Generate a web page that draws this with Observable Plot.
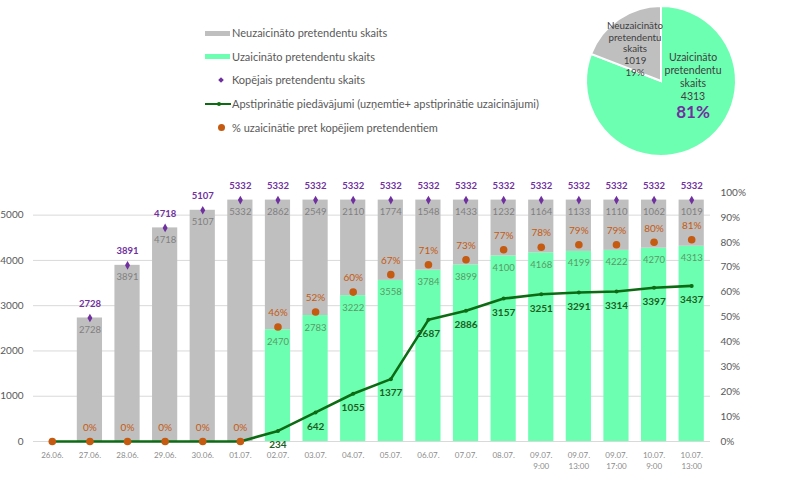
<!DOCTYPE html>
<html><head><meta charset="utf-8">
<script src="https://cdn.jsdelivr.net/npm/d3@7"></script>
<script src="https://cdn.jsdelivr.net/npm/@observablehq/plot@0.6"></script>
<style>
body{margin:0;background:#fff;font-family:Lato,"Open Sans",sans-serif;}
#wrap{position:relative;width:800px;height:490px;overflow:hidden;}
#chart{position:absolute;left:0;top:0;}
#pie{position:absolute;left:580px;top:0;}
#legend{position:absolute;left:204px;top:21px;font-size:11px;color:#595959;}
.row{height:23.6px;display:flex;align-items:center;white-space:nowrap;}
.sw{width:27px;height:12px;position:relative;margin-right:1px;}
</style></head><body>
<div id="wrap"><div id="chart"></div><div id="pie"></div><div id="legend"></div></div>
<script>
const categories = ["26.06.","27.06.","28.06.","29.06.","30.06.","01.07.","02.07.","03.07.","04.07.","05.07.","06.07.","07.07.","08.07.","09.07.\n9:00","09.07.\n13:00","09.07.\n17:00","10.07.\n9:00","10.07.\n13:00"];
const neuzaicinato = [0,2728,3891,4718,5107,5332,2862,2549,2110,1774,1548,1433,1232,1164,1133,1110,1062,1019];
const uzaicinato = [0,0,0,0,0,0,2470,2783,3222,3558,3784,3899,4100,4168,4199,4222,4270,4313];
const kopejais = [null,2728,3891,4718,5107,5332,5332,5332,5332,5332,5332,5332,5332,5332,5332,5332,5332,5332];
const apstiprinatie = [0,0,0,0,0,0,234,642,1055,1377,2687,2886,3157,3251,3291,3314,3397,3437];
const procenti = [0,0,0,0,0,0,46,52,60,67,71,73,77,78,79,79,80,81];
const leftTicks = [0,1000,2000,3000,4000,5000];
const rightTicks = [0,10,20,30,40,50,60,70,80,90,100];
const pieLabels = ["Uzaicināto\npretendentu\nskaits","Neuzaicināto\npretendentu\nskaits"];
const pieValues = [4313,1019];
const legendItems = ["Neuzaicināto pretendentu skaits","Uzaicināto pretendentu skaits","Kopējais pretendentu skaits","Apstiprinātie piedāvājumi (uzņemtie+ apstiprinātie uzaicinājumi)","% uzaicinātie pret kopējiem pretendentiem"];

const C = {grey:"#bfbfbf", green:"#6dffb1", purple:"#7030a0", orange:"#c55a11", line:"#0d6b14", lineText:"#1e5e22", greenText:"#5a9a66", greyText:"#7f7f7f", axis:"#595959"};
const K = 55; // 100% on right axis corresponds to 5500 on left axis

const data = categories.map((c,i)=>({c, neu:neuzaicinato[i], uz:uzaicinato[i], total:kopejais[i], appr:apstiprinatie[i], pct:procenti[i]}));

const chart = Plot.plot({
  width:800, height:490, marginTop:192, marginBottom:49, marginLeft:33, marginRight:90,
  style:{fontFamily:"Lato, 'Open Sans', sans-serif", background:"transparent"},
  x:{domain:categories, paddingInner:0.33, paddingOuter:0.165, round:false, axis:null},
  y:{domain:[0,5500], axis:null},
  marks:[
    Plot.gridY(leftTicks.slice(1), {stroke:"#d9d9d9", strokeOpacity:1}),
    Plot.axisY(leftTicks, {anchor:"left", tickSize:0, tickPadding:10, fontSize:10, fill:C.axis, tickFormat:d=>String(d), label:null}),
    Plot.axisY(rightTicks.map(p=>p*K), {anchor:"right", tickSize:0, tickPadding:10, fontSize:10, fill:C.axis, tickFormat:d=>Math.round(d/K)+"%", label:null}),
    Plot.barY(data, {x:"c", y1:0, y2:"uz", fill:C.green}),
    Plot.barY(data, {x:"c", y1:"uz", y2:d=>d.uz+d.neu, fill:C.grey}),
    Plot.ruleY([0], {stroke:"#d9d9d9"}),
    Plot.axisX({tickSize:0, tickPadding:9, fontSize:8, fill:"#8c8c8c", lineHeight:1.35, tickFormat:d=>d, label:null}),
    Plot.text(data.filter(d=>d.neu>0), {x:"c", y:d=>d.uz+d.neu, text:d=>String(d.neu), dy:12, fill:C.greyText, fontSize:9.5}),
    Plot.text(data.filter(d=>d.uz>0), {x:"c", y:"uz", text:d=>String(d.uz), dy:12, fill:C.greenText, fontSize:9.5}),
    Plot.line(data, {x:"c", y:"appr", stroke:C.line, strokeWidth:2.6}),
    Plot.dot(data, {x:"c", y:"appr", r:2, fill:C.line}),
    Plot.text(data.filter(d=>d.appr>0), {x:"c", y:"appr", text:d=>String(d.appr), dy:14, fill:C.lineText, fontWeight:"bold", fontSize:10}),
    Plot.dot(data, {x:"c", y:d=>d.pct*K, r:3.8, fill:C.orange}),
    Plot.text(data.filter(d=>d.total!=null), {x:"c", y:d=>d.pct*K, text:d=>d.pct+"%", dy:-14, fill:C.orange, fontSize:10}),
    Plot.dot(data.filter(d=>d.total!=null), {x:"c", y:"total", symbol:"diamond", r:2.6, fill:C.purple}),
    Plot.text(data.filter(d=>d.total!=null), {x:"c", y:"total", text:d=>String(d.total), dy:-14, fill:C.purple, fontWeight:"bold", fontSize:9.5})
  ]
});
document.getElementById("chart").append(chart);

// Pie
const pieData = pieValues.map((v,i)=>({label:pieLabels[i], value:v}));
const totalPie = d3.sum(pieValues);
const pieColors = [C.green, C.grey];
function pieRender(index, scales, values, dims) {
  const g = d3.create("svg:g");
  const cx = 81, cy = 81, R = 75;
  const arcs = d3.pie().sort(null).value(d=>d.value)(pieData);
  const arc = d3.arc().innerRadius(0).outerRadius(R);
  g.selectAll("path").data(arcs).join("path")
    .attr("transform",`translate(${cx},${cy})`)
    .attr("d",arc).attr("fill",(d,i)=>pieColors[i]).attr("stroke","#fff").attr("stroke-width",2);
  const offsets = [[32,-20],[-26,-52]];
  arcs.forEach((a,i)=>{
    const lines = a.data.label.split("\n").concat([String(a.data.value)]);
    if (i===1) lines.push(Math.round(a.data.value/totalPie*100)+"%");
    const t = g.append("text").attr("text-anchor","middle").attr("font-size",i===0?10.5:9.8).attr("fill","#404040")
      .attr("transform",`translate(${cx+offsets[i][0]},${cy+offsets[i][1]})`);
    lines.forEach((l,j)=>t.append("tspan").attr("x",0).attr("y",j*(i===0?13:11.7)).text(l));
    if (i===0) {
      g.append("text").attr("text-anchor","middle").attr("font-size",17).attr("font-weight","bold").attr("fill",C.purple)
        .attr("transform",`translate(${cx+offsets[i][0]},${cy+offsets[i][1]+57})`)
        .text(Math.round(a.data.value/totalPie*100)+"%");
    }
  });
  return g.node();
}
const pie = Plot.plot({width:170, height:165, margin:0, x:{axis:null}, y:{axis:null},
  style:{fontFamily:"Lato, 'Open Sans', sans-serif", background:"transparent"}, marks:[pieRender]});
document.getElementById("pie").append(pie);

// Legend
const legend = d3.select("#legend");
const swatches = [
  s=>s.append("div").style("position","absolute").style("left","1px").style("top","4px").style("width","25px").style("height","5px").style("background",C.grey),
  s=>s.append("div").style("position","absolute").style("left","1px").style("top","4px").style("width","25px").style("height","5px").style("background",C.green),
  s=>s.append("div").style("position","absolute").style("left","15px").style("top","4px").style("width","4px").style("height","4px").style("background",C.purple).style("transform","rotate(45deg)"),
  s=>{s.append("div").style("position","absolute").style("left","1px").style("top","5px").style("width","26px").style("height","2.6px").style("background",C.line);
      s.append("div").style("position","absolute").style("left","13px").style("top","4px").style("width","4px").style("height","4px").style("border-radius","50%").style("background",C.line);},
  s=>s.append("div").style("position","absolute").style("left","13.5px").style("top","3px").style("width","7px").style("height","7px").style("border-radius","50%").style("background",C.orange)
];
legendItems.forEach((t,i)=>{
  const r = legend.append("div").attr("class","row");
  const sw = r.append("div").attr("class","sw");
  swatches[i](sw);
  r.append("span").text(t);
});
</script>
</body></html>
